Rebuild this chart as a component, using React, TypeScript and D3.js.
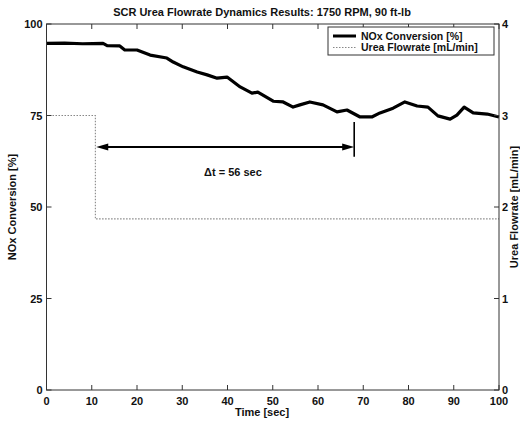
import React from "react";
import * as d3 from "d3";

// NOx conversion trace [%] over time [sec]
const noxTime = [0, 4, 8, 12.5, 13.4, 16.2, 17.3, 20, 22.9, 26.6, 28, 30.2, 33.3, 35.5, 37.7, 39.9, 42.8, 45.4, 46.7, 50.1, 52.3, 54.5, 56, 58.2, 61.1, 64.2, 66.4, 69.3, 71.9, 73.7, 76.6, 79.2, 81.9, 84.3, 86.5, 89.2, 90.7, 92.3, 94.3, 97.4, 100];
const noxValue = [94.7, 94.8, 94.6, 94.7, 94.1, 94.0, 92.9, 92.9, 91.5, 90.7, 89.6, 88.3, 86.9, 86.1, 85.2, 85.5, 82.8, 81.1, 81.4, 78.9, 78.7, 77.3, 77.9, 78.7, 77.9, 76.0, 76.5, 74.6, 74.6, 75.7, 77.0, 78.7, 77.6, 77.3, 74.9, 74.0, 75.1, 77.3, 75.7, 75.4, 74.6];

// Urea flowrate setpoint [mL/min]
const ureaTime = [0, 10.8, 10.8, 100];
const ureaFlow = [3.0, 3.0, 1.87, 1.87];

// Axis ticks
const xTicks = [0, 10, 20, 30, 40, 50, 60, 70, 80, 90, 100];
const leftTicks = [0, 25, 50, 75, 100];
const rightTicks = [0, 1, 2, 3, 4];

// Response-time annotation
const deltaStart = 11;
const deltaEnd = 68;
const deltaLabel = "Δt = 56 sec";

const W = 520;
const H = 422;
const left = 46.5;
const right = 499;
const top = 24;
const bottom = 390;
const font = "'Liberation Sans', Arial, sans-serif";

export default function App() {
  const x = d3.scaleLinear().domain([0, 100]).range([left, right]);
  const yL = d3.scaleLinear().domain([0, 100]).range([bottom, top]);
  const yR = d3.scaleLinear().domain([0, 4]).range([bottom, top]);

  const noxLine = d3
    .line<number>()
    .x((_, i) => x(noxTime[i]))
    .y((d) => yL(d))
    .curve(d3.curveLinear)(noxValue) as string;

  const ureaLine = d3
    .line<number>()
    .x((_, i) => x(ureaTime[i]))
    .y((d) => yR(d))(ureaFlow) as string;

  const arrowY = yL(66.4);
  const ax0 = x(deltaStart);
  const ax1 = x(deltaEnd);
  const tick = 5;

  return (
    <svg width={W} height={H} style={{ position: "absolute", left: 0, top: 0, background: "#fff" }} fontFamily={font}>
      <rect x={0} y={0} width={W} height={H} fill="#fff" />
      {/* Title */}
      <text x={262} y={16} textAnchor="middle" fontSize={11} fontWeight="bold" fill="#111">
        SCR Urea Flowrate Dynamics Results: 1750 RPM, 90 ft-lb
      </text>

      {/* Series */}
      <path d={ureaLine} fill="none" stroke="#888" strokeWidth={1.1} strokeDasharray="1.5,1.5" />
      <path d={noxLine} fill="none" stroke="#000" strokeWidth={3.2} strokeLinejoin="round" />

      {/* Plot frame */}
      <rect x={left} y={top} width={right - left} height={bottom - top} fill="none" stroke="#333" strokeWidth={1} />

      {/* X ticks (bottom and top) */}
      {xTicks.map((t) => (
        <g key={"x" + t}>
          <line x1={x(t)} x2={x(t)} y1={bottom} y2={bottom - tick} stroke="#333" />
          <line x1={x(t)} x2={x(t)} y1={top} y2={top + tick} stroke="#333" />
          <text x={x(t)} y={405} textAnchor="middle" fontSize={11} fontWeight="bold" fill="#111">
            {t}
          </text>
        </g>
      ))}

      {/* Left ticks */}
      {leftTicks.map((v) => (
        <g key={"l" + v}>
          <line x1={left} x2={left + tick} y1={yL(v)} y2={yL(v)} stroke="#333" />
          <text x={left - 4} y={yL(v) + 4} textAnchor="end" fontSize={11} fontWeight="bold" fill="#111">
            {v}
          </text>
        </g>
      ))}

      {/* Right ticks */}
      {rightTicks.map((v) => (
        <g key={"r" + v}>
          <line x1={right} x2={right - tick} y1={yR(v)} y2={yR(v)} stroke="#333" />
          <text x={right + 3} y={yR(v) + 4} textAnchor="start" fontSize={11} fontWeight="bold" fill="#111">
            {v}
          </text>
        </g>
      ))}

      {/* Axis labels */}
      <text x={262} y={416} textAnchor="middle" fontSize={11} fontWeight="bold" fill="#111">
        Time [sec]
      </text>
      <text
        transform={`translate(16, ${(top + bottom) / 2}) rotate(-90)`}
        textAnchor="middle"
        fontSize={11}
        fontWeight="bold"
        fill="#111"
      >
        NOx Conversion [%]
      </text>
      <text
        transform={`translate(518, ${(top + bottom) / 2}) rotate(-90)`}
        textAnchor="middle"
        fontSize={11}
        fontWeight="bold"
        fill="#111"
      >
        Urea Flowrate [mL/min]
      </text>

      {/* Legend */}
      <rect x={328} y={27} width={166} height={28} fill="#fff" stroke="#333" strokeWidth={1} />
      <line x1={333} x2={356} y1={36} y2={36} stroke="#000" strokeWidth={3} />
      <line x1={333} x2={356} y1={47.5} y2={47.5} stroke="#888" strokeWidth={1} strokeDasharray="1.5,1.5" />
      <text x={361} y={39.5} fontSize={10.5} fontWeight="bold" fill="#111">
        NOx Conversion [%]
      </text>
      <text x={361} y={51} fontSize={10.5} fontWeight="bold" fill="#111">
        Urea Flowrate [mL/min]
      </text>

      {/* Δt annotation */}
      <line x1={ax0 + 8} x2={ax1 - 8} y1={arrowY} y2={arrowY} stroke="#000" strokeWidth={2} />
      <path d={`M${ax0},${arrowY} L${ax0 + 12},${arrowY - 3.5} L${ax0 + 12},${arrowY + 3.5} Z`} fill="#000" />
      <path d={`M${ax1},${arrowY} L${ax1 - 12},${arrowY - 3.5} L${ax1 - 12},${arrowY + 3.5} Z`} fill="#000" />
      <line x1={ax1} x2={ax1} y1={yL(73.2)} y2={yL(63.7)} stroke="#000" strokeWidth={1.6} />
      <text x={x(41.2)} y={yL(59.6) + 4} textAnchor="middle" fontSize={11} fontWeight="bold" fill="#111">
        {deltaLabel}
      </text>
    </svg>
  );
}
